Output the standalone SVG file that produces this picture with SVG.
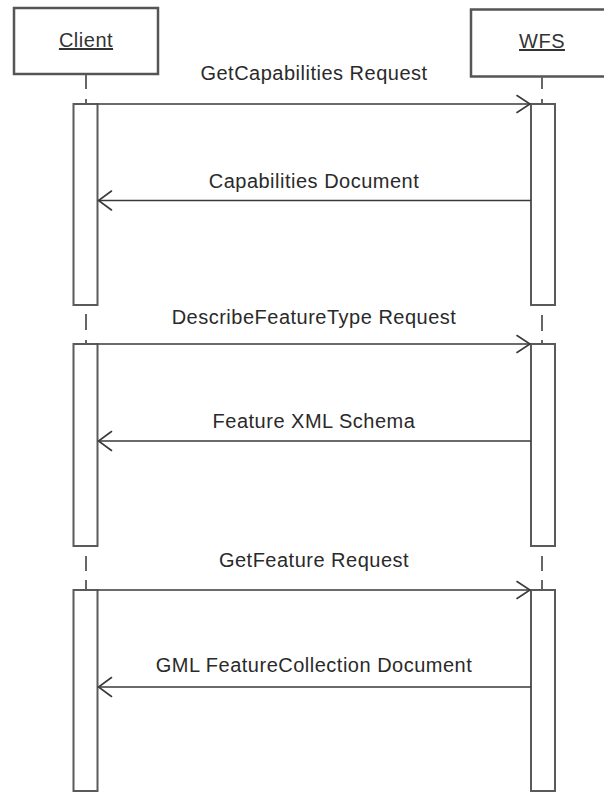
<svg xmlns="http://www.w3.org/2000/svg" width="604" height="793" viewBox="0 0 604 793">
  <style>
    .head { fill: #fff; stroke: #555; stroke-width: 2.5; }
    .act { fill: #fff; stroke: #5a5a5a; stroke-width: 2; }
    .life { stroke: #666; stroke-width: 2; fill: none; }
    .msg { stroke: #3a3a3a; stroke-width: 1.6; fill: none; }
    .tip { stroke: #3a3a3a; stroke-width: 1.6; fill: none; stroke-linecap: round; }
    .lbl { font-family: "Liberation Sans", Arial, sans-serif; font-size: 20px; letter-spacing: 0.5px; fill: #2a2a2a; text-anchor: middle; }
    .name { font-family: "Liberation Sans", Arial, sans-serif; font-size: 20px; letter-spacing: 0.5px; fill: #333; text-anchor: middle; text-decoration: underline; }
  </style>

  <!-- Participant: Client -->
  <g id="client">
    <rect class="head" x="14" y="8" width="144" height="66"/>
    <text class="name" x="86" y="47">Client</text>
    <path class="life" d="M86 75 V89 M86 99 V104 M86 314 V330 M86 340 V344 M86 556 V571 M86 580 V590"/>
    <rect class="act" x="73.5" y="104" width="24" height="201"/>
    <rect class="act" x="73.5" y="344" width="24" height="202"/>
    <rect class="act" x="73.5" y="590" width="24" height="201"/>
  </g>

  <!-- Participant: WFS -->
  <g id="wfs">
    <rect class="head" x="471" y="9.5" width="144" height="67"/>
    <text class="name" x="542" y="48">WFS</text>
    <path class="life" d="M542 77 V89 M542 99 V104 M542 315 V331 M542 340 V344 M542 556 V571 M542 580 V590"/>
    <rect class="act" x="531" y="104" width="24" height="201"/>
    <rect class="act" x="531" y="344" width="24" height="202"/>
    <rect class="act" x="531" y="590" width="24" height="201"/>
  </g>

  <!-- Messages -->
  <g id="connectors">
    <path class="msg" d="M97.5 104 H530"/>
    <path class="tip" d="M517 95.5 L530 104 L517 112.5"/>
    <path class="msg" d="M531 200.5 H98.5"/>
    <path class="tip" d="M111.5 191 L98.5 200.5 L111.5 210"/>

    <path class="msg" d="M97.5 344 H530"/>
    <path class="tip" d="M517 335.5 L530 344 L517 352.5"/>
    <path class="msg" d="M531 441 H98.5"/>
    <path class="tip" d="M111.5 431.5 L98.5 441 L111.5 450.5"/>

    <path class="msg" d="M97.5 590 H530"/>
    <path class="tip" d="M517 581.5 L530 590 L517 598.5"/>
    <path class="msg" d="M531 687 H98.5"/>
    <path class="tip" d="M111.5 677.5 L98.5 687 L111.5 696.5"/>
  </g>

  <!-- Message labels -->
  <g id="labels">
    <text class="lbl" x="314" y="80">GetCapabilities Request</text>
    <text class="lbl" x="314" y="188">Capabilities Document</text>
    <text class="lbl" x="314" y="324">DescribeFeatureType Request</text>
    <text class="lbl" x="314" y="428">Feature XML Schema</text>
    <text class="lbl" x="314" y="567">GetFeature Request</text>
    <text class="lbl" x="314" y="672">GML FeatureCollection Document</text>
  </g>
</svg>
